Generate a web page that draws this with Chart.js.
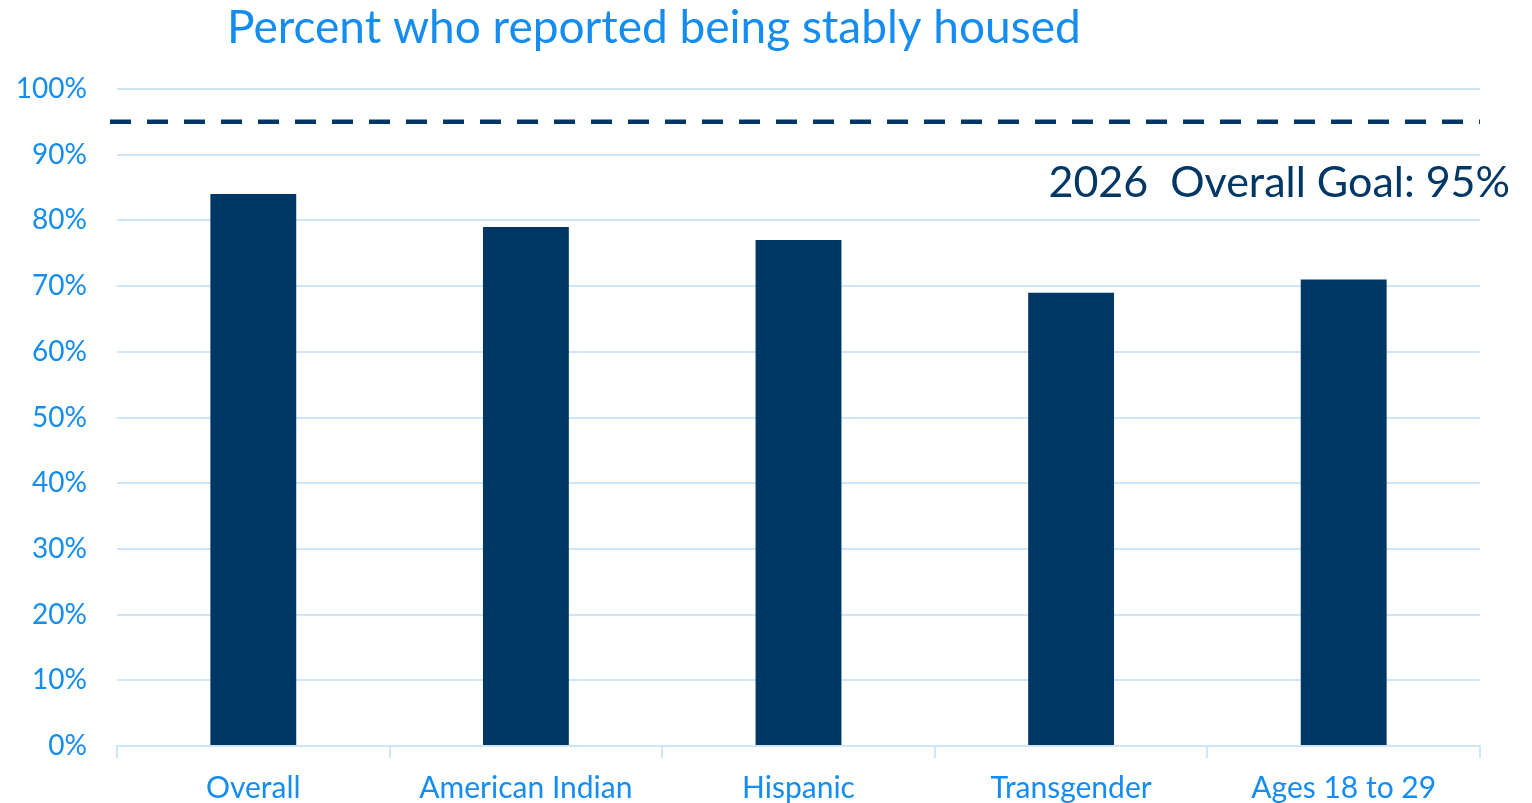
<!DOCTYPE html>
<html>
<head>
<meta charset="utf-8">
<script src="https://cdn.jsdelivr.net/npm/chart.js"></script>
<style>
  body { margin: 0; background: #fff; }
  #wrap { width: 1532px; height: 803px; }
</style>
</head>
<body>
<div id="wrap"><canvas id="housingChart" width="1532" height="803"></canvas></div>
<script>
const categories = ["Overall", "American Indian", "Hispanic", "Transgender", "Ages 18 to 29"];
const stablyHoused = [84, 79, 77, 69, 71];
const goalValue = 95;
const goalLabel = "2026  Overall Goal: 95%";
const chartTitle = "Percent who reported being stably housed";

const navy = "rgb(0, 55, 100)";
const blue = "rgb(20, 140, 240)";
const gridBlue = "rgb(206, 230, 250)";
const font = "Lato, 'Open Sans', sans-serif";

// dashed goal line, its label and the title
const goalPlugin = {
  id: "goal",
  afterDatasetsDraw(chart) {
    const { ctx, chartArea, scales } = chart;
    const py = scales.y.getPixelForValue(goalValue);
    ctx.save();
    ctx.strokeStyle = navy;
    ctx.lineWidth = 4.5;
    ctx.setLineDash([21, 16]);
    ctx.beginPath();
    ctx.moveTo(chartArea.left - 7, py);
    ctx.lineTo(chartArea.right, py);
    ctx.stroke();
    ctx.setLineDash([]);
    ctx.fillStyle = navy;
    ctx.font = "43px " + font;
    ctx.textAlign = "right";
    ctx.textBaseline = "middle";
    ctx.fillText(goalLabel, chart.width - 22, py + 61);
    ctx.fillStyle = blue;
    ctx.textAlign = "left";
    ctx.font = "46px " + font;
    ctx.fillText(chartTitle, 227, 28);
    ctx.restore();
  }
};

const data = {
  labels: categories,
  datasets: [
    {
      label: "Stably housed",
      backgroundColor: navy,
      data: stablyHoused,
      barPercentage: 0.63,
      categoryPercentage: 0.5,
    },
  ],
};

const config = {
  type: "bar",
  data: data,
  options: {
    responsive: false,
    animation: false,
    layout: {
      padding: { top: 89, right: 52, bottom: 0, left: 0 }
    },
    plugins: {
      legend: { display: false },
      tooltip: { enabled: false }
    },
    scales: {
      x: {
        afterFit(axis) { axis.height = 57; },
        grid: {
          offset: true,
          drawOnChartArea: false,
          color: gridBlue,
          lineWidth: 2,
          tickLength: 12
        },
        border: { color: gridBlue, width: 2 },
        ticks: {
          color: blue,
          padding: 12,
          font: { family: font, size: 30 }
        }
      },
      y: {
        min: 0,
        max: 100,
        afterFit(axis) { axis.width = 117; },
        grid: {
          color: gridBlue,
          lineWidth: 2,
          drawTicks: false
        },
        border: { display: false },
        ticks: {
          stepSize: 10,
          color: blue,
          padding: 30,
          font: { family: font, size: 28 },
          callback: (v) => v + "%"
        }
      }
    }
  },
  plugins: [goalPlugin]
};

let ctx = document.getElementById("housingChart");
const housingChart = new Chart(ctx, config);
</script>
</body>
</html>
